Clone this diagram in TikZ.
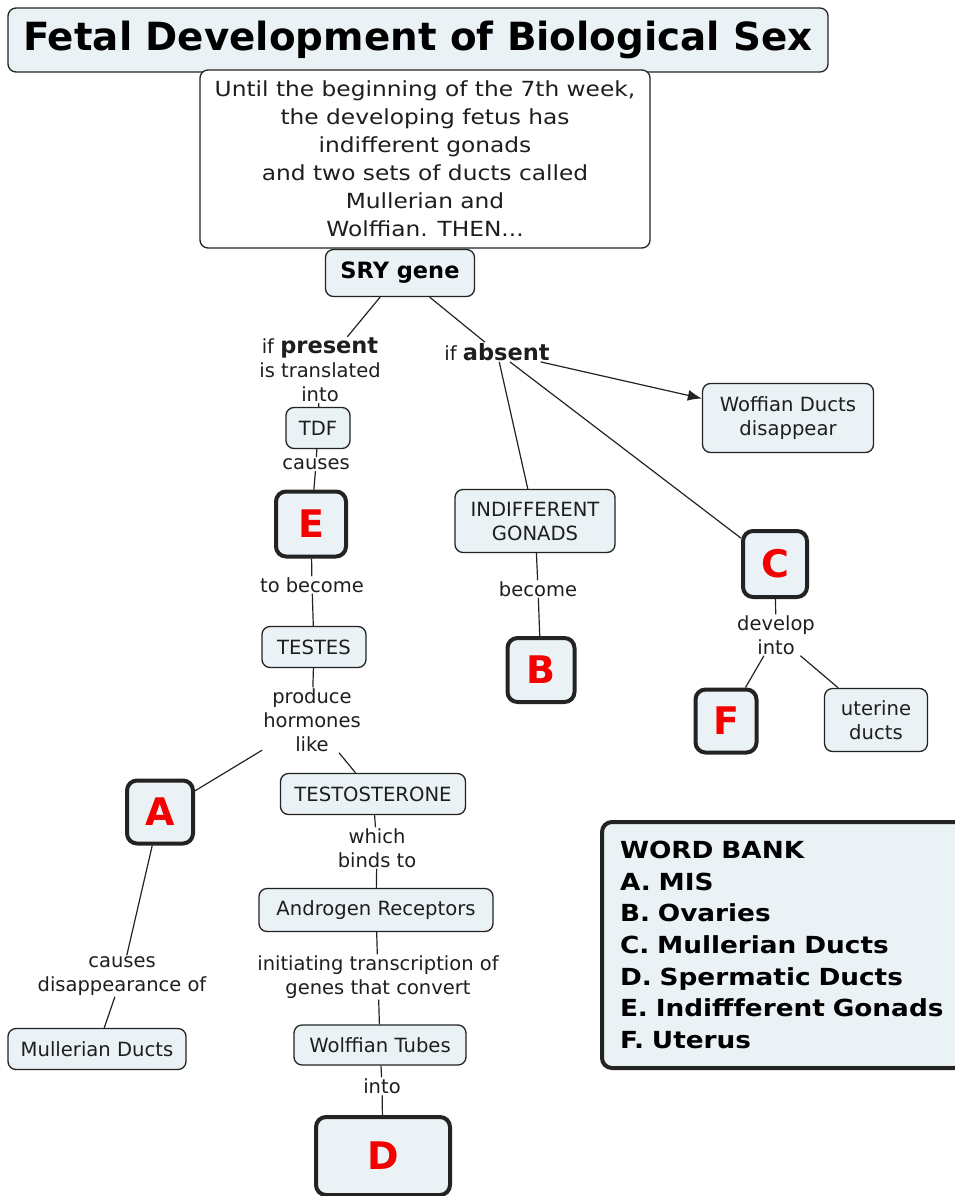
\documentclass[tikz,border=0pt]{standalone}
\usepackage{fontspec}
\setmainfont{DejaVu Sans}
\newfontfamily\widefont{DejaVu Sans}[FakeStretch=1.12]
\usetikzlibrary{arrows.meta}
\definecolor{conceptfill}{RGB}{235,242,245}
\definecolor{linecol}{RGB}{35,35,35}
\definecolor{textcol}{RGB}{30,30,30}
\definecolor{lettercol}{RGB}{245,0,0}
\begin{document}
\begin{tikzpicture}[x=1pt,y=-1pt,
    concept/.style={draw=linecol, fill=conceptfill, rounded corners=8pt, line width=1.3pt,
      text=textcol, align=center, inner sep=2pt, font=\fontsize{19.6}{24}\selectfont},
    letterbox/.style={concept, line width=4pt, rounded corners=10pt, text=lettercol,
      font=\fontsize{38}{38}\selectfont\bfseries},
    linking/.style={text=textcol, align=center, inner sep=1pt, font=\fontsize{19.5}{24}\selectfont},
    link/.style={draw=linecol, line width=1.2pt}]
                \useasboundingbox (0,0) rectangle (954,1196);
                % top
                \node[concept, minimum width=820, minimum height=64,
                      font=\fontsize{38.8}{38}\selectfont\bfseries, text=black] (title) at (418,40)
                      {Fetal Development of Biological Sex};
                \node[concept, fill=white, minimum width=450, minimum height=178,
                      font=\widefont\fontsize{20.8}{28}\selectfont] (intro) at (425,159)
                      {Until the beginning of the 7th week,\\the developing fetus has\\indifferent gonads\\and two sets of ducts called\\Mullerian and\\Wolffian. THEN...};
                \node[concept, minimum width=149, minimum height=47,
                      font=\fontsize{22.5}{24}\selectfont\bfseries, text=black] (sry) at (400,273) {SRY gene};
                % if present
                \node[linking] (present) at (320,370)
                      {if {\fontsize{22.5}{24}\selectfont\bfseries present}\\is translated\\into};
                \node[concept, minimum width=64, minimum height=41] (tdf) at (318,428) {TDF};
                \node[linking] (causes) at (316,464) {causes};
                \node[letterbox, minimum width=70, minimum height=65] (e) at (311,524) {E};
                \node[linking] (tobecome) at (312,585) {to become};
                \node[concept, minimum width=104, minimum height=41] (testes) at (314,647) {TESTES};
                \node[linking] (produce) at (312,720) {produce\\hormones\\like};
                \node[letterbox, minimum width=66, minimum height=63] (a) at (160,812) {A};
                \node[concept, minimum width=185, minimum height=41] (testo) at (373,794) {TESTOSTERONE};
                \node[linking] (binds) at (377,848) {which\\binds to};
                \node[concept, minimum width=234, minimum height=43] (andro) at (376,910) {Androgen Receptors};
                \node[linking] (initiating) at (378,977) {initiating transcription of\\genes that convert};
                \node[concept, minimum width=172, minimum height=40] (wtubes) at (380,1045) {Wolffian Tubes};
                \node[linking] (into) at (382,1086) {into};
                \node[letterbox, minimum width=134, minimum height=78] (d) at (383,1156) {D};
                \node[linking] (disappear) at (122,976) {causes\\disappearance of};
                \node[concept, minimum width=178, minimum height=41] (mducts) at (97,1049) {Mullerian Ducts};
                % if absent
                \node[linking] (absent) at (497,352)
                      {if {\fontsize{22.5}{24}\selectfont\bfseries absent}};
                \node[concept, minimum width=171, minimum height=69] (woff) at (788,418) {Woffian Ducts\\disappear};
                \node[concept, minimum width=160, minimum height=63] (indiff) at (535,521) {INDIFFERENT\\GONADS};
                \node[linking] (become) at (538,589) {become};
                \node[letterbox, minimum width=67, minimum height=64] (b) at (541,670) {B};
                \node[letterbox, minimum width=64, minimum height=66] (c) at (775,564) {C};
                \node[linking] (develop) at (776,635) {develop\\into};
                \node[letterbox, minimum width=61, minimum height=63] (f) at (726,721) {F};
                \node[concept, minimum width=103, minimum height=63] (uducts) at (876,720) {uterine\\ducts};
                % word bank
                \node[concept, line width=4pt, rounded corners=10pt, minimum width=362, minimum height=246,
                      text width=326, inner xsep=18pt, align=left, text=black,
                      font=\widefont\fontsize{23.5}{31.6}\selectfont\bfseries] (bank) at (783,945)
                      {WORD BANK\\A. MIS\\B. Ovaries\\C. Mullerian Ducts\\D. Spermatic Ducts\\E. Indiffferent Gonads\\F. Uterus};
                % connectors
                \draw[link] (sry) -- (present);
                \draw[link] (present) -- (tdf);
                \draw[link] (tdf) -- (causes);
                \draw[link] (causes) -- (e);
                \draw[link] (e) -- (tobecome);
                \draw[link] (tobecome) -- (testes);
                \draw[link] (testes) -- (produce);
                \draw[link] (produce) -- (a);
                \draw[link] (produce) -- (testo);
                \draw[link] (testo) -- (binds);
                \draw[link] (binds) -- (andro);
                \draw[link] (andro) -- (initiating);
                \draw[link] (initiating) -- (wtubes);
                \draw[link] (wtubes) -- (into);
                \draw[link] (into) -- (d);
                \draw[link] (a) -- (disappear);
                \draw[link] (disappear) -- (mducts);
                \draw[link] (sry) -- (absent);
                \draw[link, -{Latex[length=14pt,width=11pt]}] (absent) -- (woff);
                \draw[link] (absent) -- (indiff);
                \draw[link] (absent) -- (c);
                \draw[link] (indiff) -- (become);
                \draw[link] (become) -- (b);
                \draw[link] (c) -- (develop);
                \draw[link] (develop) -- (f);
                \draw[link] (develop) -- (uducts);
            \end{tikzpicture}
\end{document}
